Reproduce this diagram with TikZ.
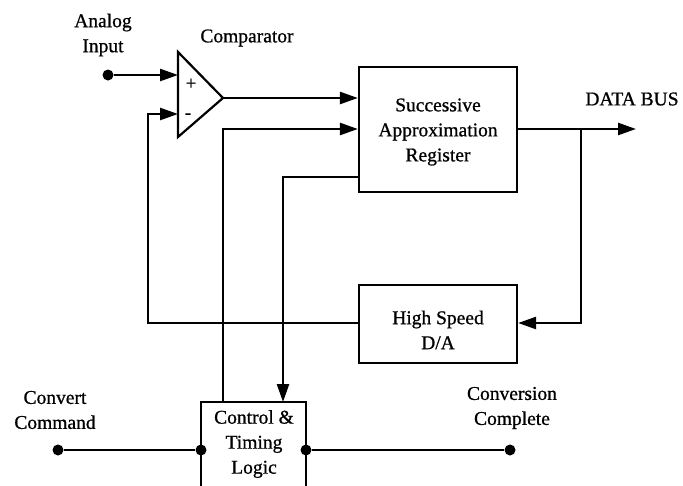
\documentclass[tikz,border=0pt]{standalone}
\usepackage{fontspec}
\setmainfont{Liberation Serif}
\newfontfamily\dfont{Liberation Serif}[FakeBold=0.8]
\usetikzlibrary{arrows.meta}
\begin{document}
\begin{tikzpicture}[x=1pt,y=-1pt,
  wire/.style={line width=2.5pt},
  arr/.style={wire,-{Triangle[length=18pt,width=12pt]}},
  dot/.style={circle,fill=black,inner sep=0pt,minimum size=11pt},
  blk/.style={draw,line width=2.2pt,inner sep=0pt},
  lbl/.style={align=center,inner sep=0pt,font=\dfont\fontsize{19.5}{25}\selectfont}]
\useasboundingbox (0,0) rectangle (683,485);
% blocks
\node[blk,minimum width=158pt,minimum height=125pt] (sar) at (438,129.5) {};
\node[lbl] (sartxt) at (438,132) {Successive\\Approximation\\Register};
\node[blk,minimum width=158pt,minimum height=78pt] (da) at (438,324) {};
\node[lbl] (datxt) at (438,330) {High Speed\\D/A};
% control box (open at bottom)
\coordinate (cbl) at (201,486);
\coordinate (ctl) at (201,402);
\coordinate (ctr) at (306,402);
\coordinate (cbr) at (306,486);
\draw[line width=2.2pt] (cbl) -- (ctl) -- (ctr) -- (cbr);
\node[lbl] (ctxt) at (254,444) {Control \&\\Timing\\Logic};
% comparator
\coordinate (ct) at (178,52);
\coordinate (cb) at (178,137);
\coordinate (co) at (223,98);
\draw[line width=2.2pt,line join=miter] (ct) -- (co) -- (cb) -- cycle;
\coordinate (cplus) at (178,75);
\coordinate (cminus) at (178,114);
\node[inner sep=0pt,font=\dfont\fontsize{19}{19}\selectfont] (plus) at (191,84) {+};
\node[inner sep=0pt,font=\dfont\fontsize{19}{19}\selectfont] (minus) at (188,116) {-};
\node[lbl] (comptxt) at (247,38) {Comparator};
% analog input
\node[lbl] (aitxt) at (103,35) {Analog\\Input};
\node[dot] (ai) at (108,75) {};
\draw[arr] (ai) -- (cplus);
% comparator output to SAR
\draw[arr] (co) -- (co -| sar.west);
% control -> SAR
\coordinate (c1top) at (223,402);
\coordinate (c1) at (223,129);
\draw[arr] (c1top) -- (c1) -- (c1 -| sar.west);
% SAR -> control
\coordinate (s1) at (sar.west |- 0,177);
\coordinate (c2) at (283,177);
\coordinate (c2b) at (283,402);
\draw[arr] (s1) -- (c2) -- (c2b);
% data bus
\coordinate (sout) at (sar.east |- 0,129);
\coordinate (junc) at (581,129);
\coordinate (bus) at (636,129);
\draw[arr] (sout) -- (bus);
\node[lbl] (bustxt) at (632,99) {DATA BUS};
\coordinate (jd) at (581,323);
\draw[arr] (junc) -- (jd) -- (jd -| da.east);
% D/A -> comparator minus
\coordinate (fb1) at (148,323);
\coordinate (fb2) at (148,114);
\draw[arr] (da.west |- 0,323) -- (fb1) -- (fb2) -- (cminus);
% convert command
\node[lbl] (cctxt) at (55,410) {Convert\\Command};
\node[dot] (cc) at (58,450) {};
\node[dot] (cl) at (201,450) {};
\draw[wire] (cc) -- (cl);
% conversion complete
\node[lbl] (cvtxt) at (512,408) {Conversion\\Complete};
\node[dot] (cr) at (306,450) {};
\node[dot] (cv) at (510,450) {};
\draw[wire] (cr) -- (cv);
\end{tikzpicture}
\end{document}
